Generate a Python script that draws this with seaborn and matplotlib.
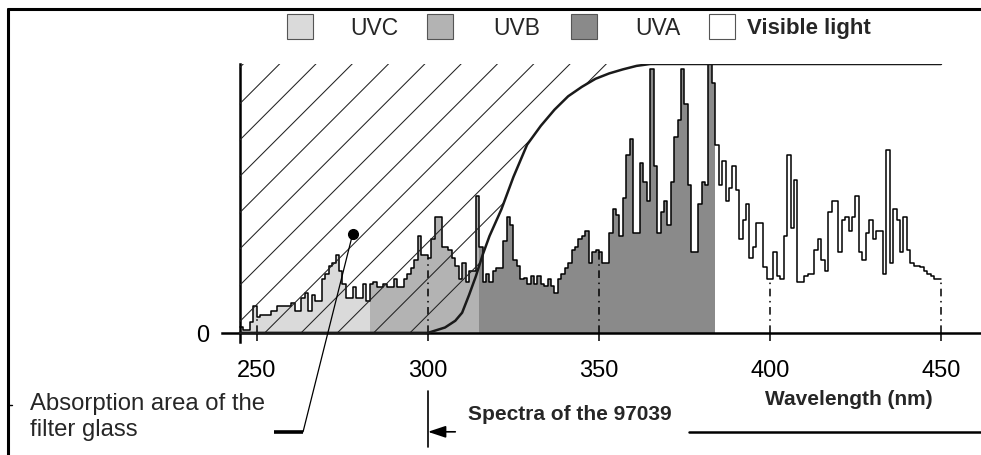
import numpy as np
import matplotlib.pyplot as plt
import seaborn as sns
from matplotlib.patches import Rectangle
from matplotlib.lines import Line2D

sns.set_theme(style="white")
plt.rcParams['font.family'] = ['Liberation Sans', 'DejaVu Sans']

# spectrum of the lamp, 1 nm bins from 245 to 449 nm (relative intensity)
wavelength = np.arange(245, 450)
intensity = [
    0.02, 0.01, 0.01, 0.04, 0.10, 0.06, 0.065, 0.065, 0.065, 0.08,
    0.08, 0.10, 0.10, 0.10, 0.10, 0.11, 0.08, 0.08, 0.13, 0.15,
    0.08, 0.14, 0.12, 0.12, 0.20, 0.22, 0.25, 0.26, 0.29, 0.23,
    0.18, 0.13, 0.13, 0.17, 0.13, 0.13, 0.18, 0.12, 0.18, 0.19,
    0.17, 0.17, 0.18, 0.17, 0.17, 0.20, 0.17, 0.17, 0.20, 0.22,
    0.24, 0.27, 0.36, 0.29, 0.29, 0.28, 0.35, 0.43, 0.43, 0.32,
    0.32, 0.31, 0.28, 0.25, 0.20, 0.26, 0.19, 0.23, 0.23, 0.51,
    0.32, 0.19, 0.22, 0.19, 0.23, 0.24, 0.24, 0.34, 0.43, 0.40,
    0.27, 0.25, 0.20, 0.205, 0.18, 0.21, 0.18, 0.21, 0.18, 0.175,
    0.20, 0.175, 0.15, 0.20, 0.22, 0.24, 0.26, 0.31, 0.32, 0.35,
    0.36, 0.38, 0.26, 0.30, 0.31, 0.30, 0.26, 0.26, 0.37, 0.46,
    0.44, 0.36, 0.50, 0.66, 0.72, 0.37, 0.37, 0.63, 0.56, 0.49,
    0.98, 0.62, 0.37, 0.45, 0.49, 0.40, 0.56, 0.73, 0.79, 0.98,
    0.85, 0.55, 0.30, 0.30, 0.48, 0.56, 0.55, 1.00, 0.93, 0.70,
    0.55, 0.64, 0.49, 0.54, 0.62, 0.53, 0.35, 0.42, 0.48, 0.28,
    0.32, 0.41, 0.41, 0.245, 0.20, 0.20, 0.30, 0.21, 0.20, 0.36,
    0.66, 0.39, 0.57, 0.19, 0.19, 0.21, 0.22, 0.22, 0.31, 0.35,
    0.27, 0.23, 0.45, 0.49, 0.49, 0.30, 0.42, 0.43, 0.38, 0.43,
    0.51, 0.30, 0.27, 0.37, 0.42, 0.35, 0.38, 0.38, 0.22, 0.68,
    0.26, 0.46, 0.42, 0.30, 0.43, 0.31, 0.26, 0.25, 0.25, 0.245,
    0.23, 0.22, 0.21, 0.20, 0.20,
]

# transmission of the filter glass
trans_nm = [245, 300, 305, 308, 310, 312, 314, 316, 318, 321.5, 325, 329,
            333, 337, 341, 345, 349, 353, 357, 361, 365, 450]
trans_val = [0, 0, 0.02, 0.045, 0.075, 0.14, 0.21, 0.29, 0.36, 0.46, 0.58, 0.70,
             0.77, 0.83, 0.88, 0.915, 0.945, 0.965, 0.98, 0.993, 1.0, 1.0]

band_edges = [245, 283, 315, 384, 450]
band_labels = ["UVC", "UVB", "UVA", "Visible light"]
band_colors = ["#dadada", "#b3b3b3", "#8a8a8a", "#ffffff"]
tick_nm = [250, 300, 350, 400, 450]

W, H = 981, 456
fig = plt.figure(figsize=(W / 100, H / 100), dpi=100)
ax = fig.add_axes([222 / W, 1 - 350 / H, 758 / W, 285 / H])
xlim = (239.8, 461.4)
ylim = (-0.06, 1.0)
ax.set_xlim(*xlim)
ax.set_ylim(*ylim)

x_step = np.append(wavelength, 450)
y_step = np.append(intensity, intensity[-1])

# coloured bands under the spectrum
for lo, hi, c in zip(band_edges[:-1], band_edges[1:], band_colors):
    m = (x_step >= lo) & (x_step <= hi)
    ax.fill_between(x_step[m], y_step[m], step='post', color=c, lw=0, zorder=1)

sns.lineplot(x=x_step, y=y_step, drawstyle='steps-post', color='black', lw=1.1,
             ax=ax, zorder=3, estimator=None, sort=False)

# dash-dot markers at the tick positions
tops = [y_step[x_step == t][0] for t in tick_nm]
ax.vlines(tick_nm, 0, tops, colors='black', lw=1.1, linestyles=(0, (5, 3, 1, 3)), zorder=2)

# hatched absorption area (above the transmission curve)
poly = ax.fill_between(trans_nm, trans_val, 1.0, facecolor='none', edgecolor='none')
clip = poly.get_paths()[0]
px_nm = 758 / (xlim[1] - xlim[0])
px_unit = 285 / (ylim[1] - ylim[0])
slope = px_nm / px_unit
spacing = 36.3 / px_nm
for k in range(-9, 13):
    x0 = 252.3 + k * spacing
    ln, = ax.plot([x0, x0 + 1.1 / slope], [0, 1.1], color='#222222', lw=0.75, zorder=4)
    ln.set_clip_path(clip, ax.transData)

sns.lineplot(x=trans_nm, y=trans_val, color='#1a1a1a', lw=1.8, ax=ax, zorder=5,
             estimator=None, sort=False)

# axes
for s in ['top', 'right']:
    ax.spines[s].set_visible(False)
ax.spines['bottom'].set_position(('data', 0))
ax.spines['left'].set_position(('data', 245))
ax.spines['left'].set_bounds(-0.035, 1.0)
for s in ['bottom', 'left']:
    ax.spines[s].set_linewidth(1.8)
    ax.spines[s].set_color('black')
ax.set_xticks(tick_nm)
ax.set_yticks([0])
ax.set_yticklabels(['0'])
ax.tick_params(axis='x', bottom=True, direction='out', length=6, width=1.1,
               pad=13, labelsize=17, colors='black')
ax.tick_params(axis='y', left=True, length=0, pad=22, labelsize=17, labelcolor='black')

# annotations
ax.plot([255, 263.5], [-0.368, -0.368], lw=2.6, color='black', clip_on=False,
        solid_capstyle='butt')
ax.plot([263.5, 278], [-0.368, 0.368], lw=0.9, color='black', clip_on=False, zorder=6)
ax.plot([278], [0.368], 'o', ms=7, color='black', zorder=6)
fig.text(30 / W, 1 - 417 / H, "Absorption area of the\nfilter glass", ha='left',
         va='center', fontsize=17.2, linespacing=1.22)

ax.plot([300, 300], [-0.216, -0.424], lw=1.2, color='black', clip_on=False)
ax.annotate('', xy=(300, -0.368), xytext=(308, -0.368), annotation_clip=False,
            arrowprops=dict(arrowstyle='-|>,head_length=0.72,head_width=0.24',
                            color='black', lw=1.2, shrinkA=0, shrinkB=0,
                            mutation_scale=15))
ax.text(311.7, -0.30, "Spectra of the 97039", ha='left', va='center',
        fontsize=15, fontweight='bold')
ax.text(423, -0.245, "Wavelength (nm)", ha='center', va='center',
        fontsize=15, fontweight='bold')

# legend
sq_x = [287, 427, 571, 709]
txt_x = [350, 493, 635, 747]
for lbl, c, sx, tx in zip(band_labels, band_colors, sq_x, txt_x):
    fig.add_artist(Rectangle((sx / W, 1 - 40 / H), 26 / W, 25 / H, transform=fig.transFigure,
                             facecolor=c, edgecolor='#555555', lw=0.8))
    bold = lbl == "Visible light"
    fig.text(tx / W, 1 - 28.5 / H, lbl, ha='left', va='center',
             fontsize=16 if bold else 16.5, fontweight='bold' if bold else 'normal')

# frame lines
fig.add_artist(Line2D([8 / W, 1], [1 - 10 / H, 1 - 10 / H], transform=fig.transFigure,
                      color='black', lw=2.2))
fig.add_artist(Line2D([8 / W, 8 / W], [1 - 10 / H, 0], transform=fig.transFigure,
                      color='black', lw=2.2))
fig.add_artist(Line2D([8 / W, 12 / W], [1 - 406 / H, 1 - 406 / H], transform=fig.transFigure,
                      color='black', lw=1))
fig.add_artist(Line2D([689 / W, 1], [1 - 433 / H, 1 - 433 / H], transform=fig.transFigure,
                      color='black', lw=1.8))

fig.savefig('out.png', dpi=100)
